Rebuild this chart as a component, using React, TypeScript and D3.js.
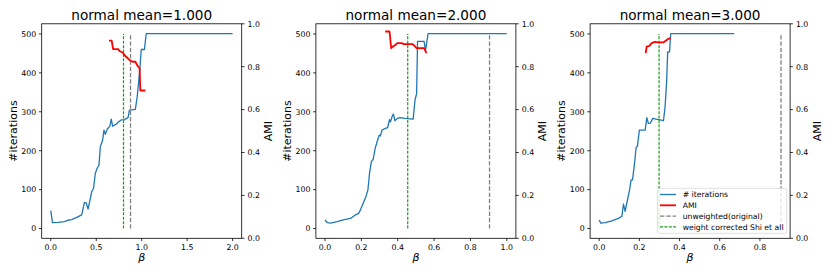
import React from "react";
import * as d3 from "d3";

// ---------- data ----------
const titles = ["normal mean=1.000", "normal mean=2.000", "normal mean=3.000"];

const p1IterBeta = [0, 0.018, 0.08, 0.15, 0.2, 0.23, 0.28, 0.34, 0.37, 0.39, 0.41, 0.43, 0.45, 0.47, 0.49, 0.51, 0.53, 0.545, 0.57, 0.585, 0.6, 0.62, 0.65, 0.665, 0.68, 0.72, 0.745, 0.775, 0.81, 0.85, 0.865, 0.93, 0.95, 0.977, 0.995, 1.03, 1.05, 2.0];
const p1Iter = [46, 15, 16, 18, 22, 23, 28, 35, 67, 66, 50, 72, 95, 103, 142, 155, 163, 210, 227, 253, 242, 255, 263, 281, 263, 268, 274, 279, 280, 285, 304, 306, 338, 402, 460, 460, 501, 501];
const p1AmiBeta = [0.64, 0.67, 0.685, 0.74, 0.76, 0.79, 0.81, 0.83, 0.85, 0.874, 0.9, 0.93, 0.96, 0.977, 0.985, 1.04];
const p1Ami = [0.922, 0.922, 0.882, 0.882, 0.872, 0.866, 0.855, 0.845, 0.838, 0.829, 0.823, 0.823, 0.8, 0.793, 0.689, 0.689];

const p2IterBeta = [0, 0.013, 0.03, 0.067, 0.1, 0.14, 0.167, 0.185, 0.195, 0.21, 0.225, 0.236, 0.245, 0.255, 0.265, 0.276, 0.289, 0.298, 0.305, 0.313, 0.33, 0.344, 0.355, 0.36, 0.37, 0.376, 0.385, 0.398, 0.413, 0.44, 0.467, 0.485, 0.495, 0.504, 0.509, 0.545, 0.553, 0.567, 1.0];
const p2Iter = [22, 15, 14, 18, 22, 26, 35, 39, 48, 65, 82, 99, 142, 172, 178, 206, 227, 240, 238, 253, 257, 259, 280, 274, 289, 294, 277, 283, 285, 283, 282, 281, 330, 347, 481, 481, 458, 501, 501];
const p2AmiBeta = [0.331, 0.355, 0.364, 0.373, 0.385, 0.398, 0.42, 0.435, 0.483, 0.495, 0.504, 0.545, 0.558];
const p2Ami = [0.964, 0.964, 0.886, 0.894, 0.9, 0.91, 0.91, 0.905, 0.905, 0.895, 0.887, 0.887, 0.863];

const p3IterBeta = [0, 0.008, 0.03, 0.063, 0.096, 0.113, 0.121, 0.129, 0.141, 0.151, 0.159, 0.166, 0.176, 0.184, 0.19, 0.2, 0.229, 0.237, 0.245, 0.255, 0.267, 0.283, 0.303, 0.32, 0.328, 0.336, 0.341, 0.35, 0.356, 0.672];
const p3Iter = [22, 14, 15, 20, 26, 32, 63, 44, 74, 99, 125, 125, 168, 209, 211, 253, 253, 285, 270, 271, 283, 281, 279, 277, 313, 381, 454, 454, 501, 501];
const p3AmiBeta = [0.2315, 0.2365, 0.25, 0.261, 0.278, 0.294, 0.319, 0.333, 0.344, 0.356];
const p3Ami = [0.863, 0.894, 0.897, 0.91, 0.916, 0.913, 0.913, 0.922, 0.93, 0.933];

const greenBeta = [0.8, 0.455, 0.298];
const grayBeta = [0.877, 0.905, 0.905];
const vlineRange = [0, 500];

const xTicks = [
  [0, 0.5, 1.0, 1.5, 2.0],
  [0, 0.2, 0.4, 0.6, 0.8, 1.0],
  [0, 0.2, 0.4, 0.6, 0.8],
];
const leftTicks = [0, 100, 200, 300, 400, 500];
const rightTicks = [0, 0.2, 0.4, 0.6, 0.8, 1.0];

const legendLabels = ["# iterations", "AMI", "unweighted(original)", "weight corrected Shi et all"];

// ---------- layout / style ----------
const W = 830, H = 277;
const axLefts = [41.7, 315.9, 590.1];
const axW = 200;
const axTop = 23.8;
const axH = 214.5;
const FONT = "DejaVu Sans, sans-serif";
const BLUE = "#1f77b4";
const RED = "#ff0000";
const GRAY = "#808080";
const GREEN = "#1f9a1f";
const TICK_FS = 7.8;

const panelData = [
  { ib: p1IterBeta, it: p1Iter, ab: p1AmiBeta, am: p1Ami },
  { ib: p2IterBeta, it: p2Iter, ab: p2AmiBeta, am: p2Ami },
  { ib: p3IterBeta, it: p3Iter, ab: p3AmiBeta, am: p3Ami },
];

function padDomain(lo: number, hi: number): [number, number] {
  const m = (hi - lo) * 0.05;
  return [lo - m, hi + m];
}

function Panel({ i }: { i: number }) {
  const d = panelData[i];
  const left = axLefts[i];
  const right = left + axW;
  const top = axTop;
  const bottom = axTop + axH;
  const xs = [...d.ib, ...d.ab, greenBeta[i], grayBeta[i]];
  const x = d3.scaleLinear().domain(padDomain(d3.min(xs)!, d3.max(xs)!)).range([left, right]);
  const ys = [...d.it, ...vlineRange];
  const y = d3.scaleLinear().domain(padDomain(d3.min(ys)!, d3.max(ys)!)).range([bottom, top]);
  const y2 = d3.scaleLinear().domain([0, 1]).range([bottom, top]);

  const blueLine = d3.line<number>().x((_, k) => x(d.ib[k])).y((v) => y(v))(d.it) || "";
  const redLine = d3.line<number>().x((_, k) => x(d.ab[k])).y((v) => y2(v))(d.am) || "";
  const fmt1 = d3.format(".1f");
  const tl = 2.8;
  const cx = (left + right) / 2;
  const cy = (top + bottom) / 2;

  return (
    <g>
      <path d={blueLine} fill="none" stroke={BLUE} strokeWidth={1.3} strokeLinejoin="round" />
      <line x1={x(grayBeta[i])} x2={x(grayBeta[i])} y1={y(vlineRange[0])} y2={y(vlineRange[1])}
        stroke={GRAY} strokeWidth={1.3} strokeDasharray="4.4,1.9" />
      <line x1={x(greenBeta[i])} x2={x(greenBeta[i])} y1={y(vlineRange[0])} y2={y(vlineRange[1])}
        stroke={GREEN} strokeWidth={1.2} strokeDasharray="3,1.4" />
      <path d={redLine} fill="none" stroke={RED} strokeWidth={1.8} strokeLinejoin="round" />

      {/* spines */}
      <rect x={left} y={top} width={axW} height={axH} fill="none" stroke="#000" strokeWidth={0.8} />

      {/* x ticks */}
      {xTicks[i].map((t) => (
        <g key={"x" + t}>
          <line x1={x(t)} x2={x(t)} y1={bottom} y2={bottom + tl} stroke="#000" strokeWidth={0.8} />
          <text x={x(t)} y={bottom + 11.3} textAnchor="middle" fontSize={TICK_FS} fontFamily={FONT}>{fmt1(t)}</text>
        </g>
      ))}
      {/* left ticks */}
      {leftTicks.map((t) => (
        <g key={"l" + t}>
          <line x1={left - tl} x2={left} y1={y(t)} y2={y(t)} stroke="#000" strokeWidth={0.8} />
          <text x={left - 5.5} y={y(t) + 2.85} textAnchor="end" fontSize={TICK_FS} fontFamily={FONT}>{t}</text>
        </g>
      ))}
      {/* right ticks */}
      {rightTicks.map((t) => (
        <g key={"r" + t}>
          <line x1={right} x2={right + tl} y1={y2(t)} y2={y2(t)} stroke="#000" strokeWidth={0.8} />
          <text x={right + 5.8} y={y2(t) + 2.85} textAnchor="start" fontSize={TICK_FS} fontFamily={FONT}>{fmt1(t)}</text>
        </g>
      ))}

      <text x={cx} y={19.5} textAnchor="middle" fontSize={13.6} fontFamily={FONT}>{titles[i]}</text>
      <text x={cx} y={260.5} textAnchor="middle" fontSize={11} fontStyle="italic" fontFamily={FONT}>β</text>
      <text transform={`translate(${left - 28.5},${cy}) rotate(-90)`} textAnchor="middle"
        dominantBaseline="central" fontSize={11} fontFamily={FONT}>#iterations</text>
      <text transform={`translate(${right + 27},${cy}) rotate(-90)`} textAnchor="middle"
        dominantBaseline="central" fontSize={11} fontFamily={FONT}>AMI</text>

      {i === 2 && <Legend right={right} bottom={bottom} />}
    </g>
  );
}

function Legend({ right, bottom }: { right: number; bottom: number }) {
  const bw = 129.4, bh = 45;
  const bx = right - 3.4 - bw;
  const by = bottom - 5 - bh;
  const rowY = (k: number) => by + 6.2 + k * 10.8;
  const styles = [
    { c: BLUE, w: 1.3, dash: undefined },
    { c: RED, w: 1.8, dash: undefined },
    { c: GRAY, w: 1.3, dash: "4.4,1.9" },
    { c: GREEN, w: 1.2, dash: "3,1.4" },
  ];
  return (
    <g>
      <rect x={bx} y={by} width={bw} height={bh} rx={2} ry={2} fill="#fff" fillOpacity={0.8}
        stroke="#cccccc" strokeOpacity={0.8} strokeWidth={0.8} />
      {legendLabels.map((lab, k) => (
        <g key={lab}>
          <line x1={bx + 2.7} x2={bx + 18.7} y1={rowY(k)} y2={rowY(k)} stroke={styles[k].c}
            strokeWidth={styles[k].w} strokeDasharray={styles[k].dash} />
          <text x={bx + 25.4} y={rowY(k) + 2.8} fontSize={7.7} fontFamily={FONT}>{lab}</text>
        </g>
      ))}
    </g>
  );
}

export default function App() {
  return (
    <svg width={W} height={H} viewBox={`0 0 ${W} ${H}`}
      style={{ position: "absolute", left: 0, top: 0, background: "#fff", display: "block" }}>
      <rect x={0} y={0} width={W} height={H} fill="#fff" />
      {[0, 1, 2].map((i) => <Panel key={i} i={i} />)}
    </svg>
  );
}
